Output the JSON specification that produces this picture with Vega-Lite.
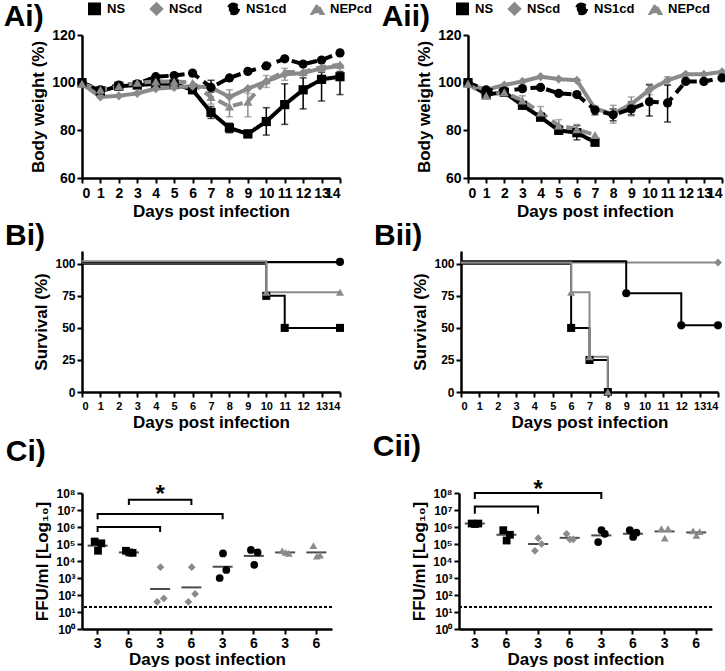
{
  "$schema": "https://vega.github.io/schema/vega-lite/v6.json",
  "background": "white",
  "padding": {"left": 3, "top": 2, "right": 0, "bottom": 0},
  "config": {
    "font": "Liberation Sans",
    "view": {"stroke": null},
    "axis": {"grid": false, "domainColor": "black", "domainWidth": 2.5, "tickColor": "black", "tickWidth": 2, "tickSize": 5, "labelColor": "black", "labelFont": "Liberation Sans", "labelFontWeight": "bold", "labelFontSize": 14, "titleFont": "Liberation Sans", "titleFontWeight": "bold", "titleFontSize": 17, "titleColor": "black", "labelOverlap": false},
    "title": {"font": "Liberation Sans", "fontWeight": "bold", "fontSize": 30, "anchor": "start", "frame": "bounds", "color": "black"},
    "legend": {"labelFont": "Liberation Sans", "padding": 0}
  },
  "datasets": {
    "bw": [
      {"panel": "i", "series": "NS", "day": 0, "value": 100},
      {"panel": "i", "series": "NS", "day": 1, "value": 96.5},
      {"panel": "i", "series": "NS", "day": 2, "value": 98.5},
      {"panel": "i", "series": "NS", "day": 3, "value": 99},
      {"panel": "i", "series": "NS", "day": 4, "value": 99.5},
      {"panel": "i", "series": "NS", "day": 5, "value": 99.5},
      {"panel": "i", "series": "NS", "day": 6, "value": 97},
      {"panel": "i", "series": "NS", "day": 7, "value": 87.5, "lo": 85, "hi": 90},
      {"panel": "i", "series": "NS", "day": 8, "value": 81, "lo": 79, "hi": 83},
      {"panel": "i", "series": "NS", "day": 9, "value": 78.5, "lo": 77, "hi": 80},
      {"panel": "i", "series": "NS", "day": 10, "value": 83.7, "lo": 78, "hi": 89.5},
      {"panel": "i", "series": "NS", "day": 11, "value": 90.8, "lo": 82.5, "hi": 99.5},
      {"panel": "i", "series": "NS", "day": 12, "value": 97, "lo": 89, "hi": 102},
      {"panel": "i", "series": "NS", "day": 13, "value": 101.4, "lo": 92.3, "hi": 104.4},
      {"panel": "i", "series": "NS", "day": 14, "value": 102.5, "lo": 95, "hi": 104.7},
      {"panel": "i", "series": "NScd", "day": 0, "value": 99.5},
      {"panel": "i", "series": "NScd", "day": 1, "value": 94},
      {"panel": "i", "series": "NScd", "day": 2, "value": 94.5},
      {"panel": "i", "series": "NScd", "day": 3, "value": 95.5},
      {"panel": "i", "series": "NScd", "day": 4, "value": 97.5},
      {"panel": "i", "series": "NScd", "day": 5, "value": 98},
      {"panel": "i", "series": "NScd", "day": 6, "value": 98.5},
      {"panel": "i", "series": "NScd", "day": 7, "value": 98},
      {"panel": "i", "series": "NScd", "day": 8, "value": 94},
      {"panel": "i", "series": "NScd", "day": 9, "value": 97.5},
      {"panel": "i", "series": "NScd", "day": 10, "value": 100.5, "lo": 98, "hi": 103},
      {"panel": "i", "series": "NScd", "day": 11, "value": 103.5, "lo": 101, "hi": 106},
      {"panel": "i", "series": "NScd", "day": 12, "value": 104},
      {"panel": "i", "series": "NScd", "day": 13, "value": 106},
      {"panel": "i", "series": "NScd", "day": 14, "value": 107},
      {"panel": "i", "series": "NS1cd", "day": 0, "value": 100},
      {"panel": "i", "series": "NS1cd", "day": 1, "value": 97},
      {"panel": "i", "series": "NS1cd", "day": 2, "value": 99},
      {"panel": "i", "series": "NS1cd", "day": 3, "value": 99.5},
      {"panel": "i", "series": "NS1cd", "day": 4, "value": 102.5},
      {"panel": "i", "series": "NS1cd", "day": 5, "value": 103},
      {"panel": "i", "series": "NS1cd", "day": 6, "value": 104},
      {"panel": "i", "series": "NS1cd", "day": 7, "value": 98, "lo": 96, "hi": 101},
      {"panel": "i", "series": "NS1cd", "day": 8, "value": 102},
      {"panel": "i", "series": "NS1cd", "day": 9, "value": 104.7},
      {"panel": "i", "series": "NS1cd", "day": 10, "value": 107},
      {"panel": "i", "series": "NS1cd", "day": 11, "value": 110},
      {"panel": "i", "series": "NS1cd", "day": 12, "value": 107.8},
      {"panel": "i", "series": "NS1cd", "day": 13, "value": 109.5},
      {"panel": "i", "series": "NS1cd", "day": 14, "value": 112.5},
      {"panel": "i", "series": "NEPcd", "day": 0, "value": 99.5},
      {"panel": "i", "series": "NEPcd", "day": 1, "value": 97},
      {"panel": "i", "series": "NEPcd", "day": 2, "value": 98.5},
      {"panel": "i", "series": "NEPcd", "day": 3, "value": 100},
      {"panel": "i", "series": "NEPcd", "day": 4, "value": 100.5},
      {"panel": "i", "series": "NEPcd", "day": 5, "value": 100.5},
      {"panel": "i", "series": "NEPcd", "day": 6, "value": 100},
      {"panel": "i", "series": "NEPcd", "day": 7, "value": 94, "lo": 91, "hi": 97},
      {"panel": "i", "series": "NEPcd", "day": 8, "value": 90, "lo": 85.7, "hi": 97},
      {"panel": "i", "series": "NEPcd", "day": 9, "value": 92, "lo": 85.7, "hi": 95.5},
      {"panel": "i", "series": "NEPcd", "day": 10, "value": 101},
      {"panel": "i", "series": "NEPcd", "day": 11, "value": 104.5},
      {"panel": "i", "series": "NEPcd", "day": 12, "value": 104.5},
      {"panel": "i", "series": "NEPcd", "day": 13, "value": 106.5},
      {"panel": "i", "series": "NEPcd", "day": 14, "value": 107.5},
      {"panel": "ii", "series": "NS", "day": 0, "value": 100},
      {"panel": "ii", "series": "NS", "day": 1, "value": 95},
      {"panel": "ii", "series": "NS", "day": 2, "value": 96},
      {"panel": "ii", "series": "NS", "day": 3, "value": 90.5},
      {"panel": "ii", "series": "NS", "day": 4, "value": 85.5},
      {"panel": "ii", "series": "NS", "day": 5, "value": 80, "lo": 78.5, "hi": 82},
      {"panel": "ii", "series": "NS", "day": 6, "value": 79, "lo": 76, "hi": 82},
      {"panel": "ii", "series": "NS", "day": 7, "value": 75},
      {"panel": "ii", "series": "NScd", "day": 0, "value": 99.5},
      {"panel": "ii", "series": "NScd", "day": 1, "value": 97},
      {"panel": "ii", "series": "NScd", "day": 2, "value": 99},
      {"panel": "ii", "series": "NScd", "day": 3, "value": 100.5},
      {"panel": "ii", "series": "NScd", "day": 4, "value": 102.5},
      {"panel": "ii", "series": "NScd", "day": 5, "value": 101.5},
      {"panel": "ii", "series": "NScd", "day": 6, "value": 101},
      {"panel": "ii", "series": "NScd", "day": 7, "value": 89},
      {"panel": "ii", "series": "NScd", "day": 8, "value": 87, "lo": 83, "hi": 90.5},
      {"panel": "ii", "series": "NScd", "day": 9, "value": 91, "lo": 86, "hi": 94},
      {"panel": "ii", "series": "NScd", "day": 10, "value": 97, "lo": 95, "hi": 99.5},
      {"panel": "ii", "series": "NScd", "day": 11, "value": 101, "lo": 99, "hi": 102.5},
      {"panel": "ii", "series": "NScd", "day": 12, "value": 103.5, "lo": 102, "hi": 104},
      {"panel": "ii", "series": "NScd", "day": 13, "value": 103.5},
      {"panel": "ii", "series": "NScd", "day": 14, "value": 104.5},
      {"panel": "ii", "series": "NS1cd", "day": 0, "value": 100},
      {"panel": "ii", "series": "NS1cd", "day": 1, "value": 97},
      {"panel": "ii", "series": "NS1cd", "day": 2, "value": 96.5},
      {"panel": "ii", "series": "NS1cd", "day": 3, "value": 97.5},
      {"panel": "ii", "series": "NS1cd", "day": 4, "value": 98},
      {"panel": "ii", "series": "NS1cd", "day": 5, "value": 95.5},
      {"panel": "ii", "series": "NS1cd", "day": 6, "value": 95},
      {"panel": "ii", "series": "NS1cd", "day": 7, "value": 88.5, "lo": 86.5, "hi": 90},
      {"panel": "ii", "series": "NS1cd", "day": 8, "value": 86.5, "lo": 84, "hi": 89},
      {"panel": "ii", "series": "NS1cd", "day": 9, "value": 89, "lo": 86.5, "hi": 92},
      {"panel": "ii", "series": "NS1cd", "day": 10, "value": 92, "lo": 86, "hi": 99},
      {"panel": "ii", "series": "NS1cd", "day": 11, "value": 91.5, "lo": 83.5, "hi": 99},
      {"panel": "ii", "series": "NS1cd", "day": 12, "value": 100.5},
      {"panel": "ii", "series": "NS1cd", "day": 13, "value": 100.5},
      {"panel": "ii", "series": "NS1cd", "day": 14, "value": 102},
      {"panel": "ii", "series": "NEPcd", "day": 0, "value": 99.5},
      {"panel": "ii", "series": "NEPcd", "day": 1, "value": 94.5},
      {"panel": "ii", "series": "NEPcd", "day": 2, "value": 96},
      {"panel": "ii", "series": "NEPcd", "day": 3, "value": 92.5, "lo": 91, "hi": 94.5},
      {"panel": "ii", "series": "NEPcd", "day": 4, "value": 87.5, "lo": 86, "hi": 90},
      {"panel": "ii", "series": "NEPcd", "day": 5, "value": 82, "lo": 80, "hi": 84.5},
      {"panel": "ii", "series": "NEPcd", "day": 6, "value": 80.5, "lo": 79, "hi": 82.5},
      {"panel": "ii", "series": "NEPcd", "day": 7, "value": 78}
    ],
    "surv": [
      {"panel": "i", "series": "NS", "day": 0, "surv": 100, "marker": false},
      {"panel": "i", "series": "NS", "day": 10, "surv": 75, "marker": true},
      {"panel": "i", "series": "NS", "day": 11, "surv": 50, "marker": true},
      {"panel": "i", "series": "NS", "day": 14, "surv": 50, "marker": true},
      {"panel": "i", "series": "NScd", "day": 0, "surv": 101, "marker": false},
      {"panel": "i", "series": "NScd", "day": 14, "surv": 101, "marker": false},
      {"panel": "i", "series": "NS1cd", "day": 0, "surv": 101.5, "marker": false},
      {"panel": "i", "series": "NS1cd", "day": 14, "surv": 101.5, "marker": true},
      {"panel": "i", "series": "NEPcd", "day": 0, "surv": 102, "marker": false},
      {"panel": "i", "series": "NEPcd", "day": 10, "surv": 77.8, "marker": true},
      {"panel": "i", "series": "NEPcd", "day": 14, "surv": 77.8, "marker": true},
      {"panel": "ii", "series": "NS", "day": 0, "surv": 100, "marker": false},
      {"panel": "ii", "series": "NS", "day": 6, "surv": 50, "marker": true},
      {"panel": "ii", "series": "NS", "day": 7, "surv": 25, "marker": true},
      {"panel": "ii", "series": "NS", "day": 8, "surv": 0, "marker": true},
      {"panel": "ii", "series": "NScd", "day": 0, "surv": 101, "marker": false},
      {"panel": "ii", "series": "NScd", "day": 14, "surv": 101, "marker": true},
      {"panel": "ii", "series": "NS1cd", "day": 0, "surv": 102, "marker": false},
      {"panel": "ii", "series": "NS1cd", "day": 9, "surv": 77, "marker": true},
      {"panel": "ii", "series": "NS1cd", "day": 12, "surv": 52, "marker": true},
      {"panel": "ii", "series": "NS1cd", "day": 14, "surv": 52, "marker": true},
      {"panel": "ii", "series": "NEPcd", "day": 0, "surv": 101, "marker": false},
      {"panel": "ii", "series": "NEPcd", "day": 6, "surv": 77.8, "marker": true},
      {"panel": "ii", "series": "NEPcd", "day": 7, "surv": 27.5, "marker": true},
      {"panel": "ii", "series": "NEPcd", "day": 8, "surv": 0, "marker": true}
    ],
    "ffu": [
      {"panel": "i", "series": "NS", "group": "NS-3", "rep": 1, "ffu": 140000},
      {"panel": "i", "series": "NS", "group": "NS-3", "rep": 2, "ffu": 40000},
      {"panel": "i", "series": "NS", "group": "NS-3", "rep": 3, "ffu": 110000},
      {"panel": "i", "series": "NS", "group": "NS-6", "rep": 1, "ffu": 40000},
      {"panel": "i", "series": "NS", "group": "NS-6", "rep": 2, "ffu": 32000},
      {"panel": "i", "series": "NS", "group": "NS-6", "rep": 3, "ffu": 30000},
      {"panel": "i", "series": "NScd", "group": "NScd-3", "rep": 1, "ffu": 40},
      {"panel": "i", "series": "NScd", "group": "NScd-3", "rep": 2, "ffu": 4300},
      {"panel": "i", "series": "NScd", "group": "NScd-3", "rep": 3, "ffu": 63},
      {"panel": "i", "series": "NScd", "group": "NScd-6", "rep": 1, "ffu": 40},
      {"panel": "i", "series": "NScd", "group": "NScd-6", "rep": 2, "ffu": 4300},
      {"panel": "i", "series": "NScd", "group": "NScd-6", "rep": 3, "ffu": 115},
      {"panel": "i", "series": "NS1cd", "group": "NS1cd-3", "rep": 1, "ffu": 1000},
      {"panel": "i", "series": "NS1cd", "group": "NS1cd-3", "rep": 2, "ffu": 28000},
      {"panel": "i", "series": "NS1cd", "group": "NS1cd-3", "rep": 3, "ffu": 3000},
      {"panel": "i", "series": "NS1cd", "group": "NS1cd-6", "rep": 1, "ffu": 45000},
      {"panel": "i", "series": "NS1cd", "group": "NS1cd-6", "rep": 2, "ffu": 6000},
      {"panel": "i", "series": "NS1cd", "group": "NS1cd-6", "rep": 3, "ffu": 32000},
      {"panel": "i", "series": "NEPcd", "group": "NEPcd-3", "rep": 1, "ffu": 40000},
      {"panel": "i", "series": "NEPcd", "group": "NEPcd-3", "rep": 2, "ffu": 32000},
      {"panel": "i", "series": "NEPcd", "group": "NEPcd-3", "rep": 3, "ffu": 28000},
      {"panel": "i", "series": "NEPcd", "group": "NEPcd-6", "rep": 1, "ffu": 80000},
      {"panel": "i", "series": "NEPcd", "group": "NEPcd-6", "rep": 2, "ffu": 19000},
      {"panel": "i", "series": "NEPcd", "group": "NEPcd-6", "rep": 3, "ffu": 22000},
      {"panel": "ii", "series": "NS", "group": "NS-3", "rep": 1, "ffu": 1600000},
      {"panel": "ii", "series": "NS", "group": "NS-3", "rep": 2, "ffu": 1500000},
      {"panel": "ii", "series": "NS", "group": "NS-3", "rep": 3, "ffu": 1600000},
      {"panel": "ii", "series": "NS", "group": "NS-6", "rep": 1, "ffu": 650000},
      {"panel": "ii", "series": "NS", "group": "NS-6", "rep": 2, "ffu": 160000},
      {"panel": "ii", "series": "NS", "group": "NS-6", "rep": 3, "ffu": 350000},
      {"panel": "ii", "series": "NScd", "group": "NScd-3", "rep": 1, "ffu": 40000},
      {"panel": "ii", "series": "NScd", "group": "NScd-3", "rep": 2, "ffu": 220000},
      {"panel": "ii", "series": "NScd", "group": "NScd-3", "rep": 3, "ffu": 100000},
      {"panel": "ii", "series": "NScd", "group": "NScd-6", "rep": 1, "ffu": 400000},
      {"panel": "ii", "series": "NScd", "group": "NScd-6", "rep": 2, "ffu": 190000},
      {"panel": "ii", "series": "NScd", "group": "NScd-6", "rep": 3, "ffu": 190000},
      {"panel": "ii", "series": "NS1cd", "group": "NS1cd-3", "rep": 1, "ffu": 130000},
      {"panel": "ii", "series": "NS1cd", "group": "NS1cd-3", "rep": 2, "ffu": 650000},
      {"panel": "ii", "series": "NS1cd", "group": "NS1cd-3", "rep": 3, "ffu": 400000},
      {"panel": "ii", "series": "NS1cd", "group": "NS1cd-6", "rep": 1, "ffu": 650000},
      {"panel": "ii", "series": "NS1cd", "group": "NS1cd-6", "rep": 2, "ffu": 260000},
      {"panel": "ii", "series": "NS1cd", "group": "NS1cd-6", "rep": 3, "ffu": 460000},
      {"panel": "ii", "series": "NEPcd", "group": "NEPcd-3", "rep": 1, "ffu": 800000},
      {"panel": "ii", "series": "NEPcd", "group": "NEPcd-3", "rep": 2, "ffu": 220000},
      {"panel": "ii", "series": "NEPcd", "group": "NEPcd-3", "rep": 3, "ffu": 800000},
      {"panel": "ii", "series": "NEPcd", "group": "NEPcd-6", "rep": 1, "ffu": 600000},
      {"panel": "ii", "series": "NEPcd", "group": "NEPcd-6", "rep": 2, "ffu": 320000},
      {"panel": "ii", "series": "NEPcd", "group": "NEPcd-6", "rep": 3, "ffu": 540000}
    ],
    "ffuMean": [
      {"panel": "i", "group": "NS-3", "mean": 80000},
      {"panel": "i", "group": "NS-6", "mean": 32000},
      {"panel": "i", "group": "NScd-3", "mean": 225},
      {"panel": "i", "group": "NScd-6", "mean": 280},
      {"panel": "i", "group": "NS1cd-3", "mean": 4600},
      {"panel": "i", "group": "NS1cd-6", "mean": 20000},
      {"panel": "i", "group": "NEPcd-3", "mean": 32000},
      {"panel": "i", "group": "NEPcd-6", "mean": 32000},
      {"panel": "ii", "group": "NS-3", "mean": 1600000},
      {"panel": "ii", "group": "NS-6", "mean": 350000},
      {"panel": "ii", "group": "NScd-3", "mean": 100000},
      {"panel": "ii", "group": "NScd-6", "mean": 230000},
      {"panel": "ii", "group": "NS1cd-3", "mean": 320000},
      {"panel": "ii", "group": "NS1cd-6", "mean": 400000},
      {"panel": "ii", "group": "NEPcd-3", "mean": 550000},
      {"panel": "ii", "group": "NEPcd-6", "mean": 480000}
    ],
    "brackets": [
      {"panel": "i", "bracket": "a", "vertex": 1, "group": "NS-3", "level": 500000},
      {"panel": "i", "bracket": "a", "vertex": 2, "group": "NS-3", "level": 1000000},
      {"panel": "i", "bracket": "a", "vertex": 3, "group": "NScd-3", "level": 1000000},
      {"panel": "i", "bracket": "a", "vertex": 4, "group": "NScd-3", "level": 500000},
      {"panel": "i", "bracket": "b", "vertex": 1, "group": "NS-3", "level": 2900000},
      {"panel": "i", "bracket": "b", "vertex": 2, "group": "NS-3", "level": 5800000},
      {"panel": "i", "bracket": "b", "vertex": 3, "group": "NS1cd-3", "level": 5800000},
      {"panel": "i", "bracket": "b", "vertex": 4, "group": "NS1cd-3", "level": 2900000},
      {"panel": "i", "bracket": "c", "vertex": 1, "group": "NS-6", "level": 20000000},
      {"panel": "i", "bracket": "c", "vertex": 2, "group": "NS-6", "level": 40000000},
      {"panel": "i", "bracket": "c", "vertex": 3, "group": "NScd-6", "level": 40000000},
      {"panel": "i", "bracket": "c", "vertex": 4, "group": "NScd-6", "level": 20000000},
      {"panel": "ii", "bracket": "a", "vertex": 1, "group": "NS-3", "level": 6000000},
      {"panel": "ii", "bracket": "a", "vertex": 2, "group": "NS-3", "level": 16000000},
      {"panel": "ii", "bracket": "a", "vertex": 3, "group": "NScd-3", "level": 16000000},
      {"panel": "ii", "bracket": "a", "vertex": 4, "group": "NScd-3", "level": 6000000},
      {"panel": "ii", "bracket": "b", "vertex": 1, "group": "NS-3", "level": 45000000},
      {"panel": "ii", "bracket": "b", "vertex": 2, "group": "NS-3", "level": 100000000},
      {"panel": "ii", "bracket": "b", "vertex": 3, "group": "NS1cd-3", "level": 100000000},
      {"panel": "ii", "bracket": "b", "vertex": 4, "group": "NS1cd-3", "level": 45000000}
    ],
    "stars": [
      {"panel": "i", "group": "NScd-3", "level": 130000000, "label": "*"},
      {"panel": "ii", "group": "NScd-3", "level": 250000000, "label": "*"}
    ]
  },
  "vconcat": [
    {
      "hconcat": [
        {
          "title": {"text": "Ai)", "dx": -26, "offset": -30},
          "width": 258, "height": 143,
          "data": {"name": "bw"},
          "transform": [{"filter": "datum.panel == 'i'"}],
          "encoding": {
            "x": {"field": "day", "type": "quantitative", "scale": {"domain": [0, 14], "nice": false}, "axis": {"values": [0,1,2,3,4,5,6,7,8,9,10,11,12,13,14], "title": "Days post infection", "labelPadding": 3, "titlePadding": 3}},
            "color": {"field": "series", "type": "nominal", "scale": {"domain": ["NS", "NScd", "NS1cd", "NEPcd"], "range": ["#000000", "#8a8a8a", "#000000", "#8a8a8a"]}, "legend": {"orient": "none", "legendX": 6, "legendY": -33, "direction": "horizontal", "title": null, "labelFontSize": 13, "labelFontWeight": "bold", "labelColor": "black", "symbolSize": 90, "columnPadding": 18, "labelOffset": 6, "encode": {"symbols": {"update": {"shape": {"signal": "datum.value === 'NS' ? 'M-2.2,0H2.2M-0.95,-0.95H0.95V0.95H-0.95Z' : datum.value === 'NScd' ? 'M-2.2,0H2.2M0,-1.15L1.15,0L0,1.15L-1.15,0Z' : datum.value === 'NS1cd' ? 'M-2.2,0H-1.05M1.05,0H2.2M-1.05,0A1.05,1.05 0 1,0 1.05,0A1.05,1.05 0 1,0 -1.05,0Z' : 'M-2.2,0H2.2M0,-1.2L1.2,0.9H-1.2Z'"}, "stroke": {"signal": "datum.value === 'NScd' || datum.value === 'NEPcd' ? '#8a8a8a' : '#000000'"}, "fill": {"signal": "datum.value === 'NScd' || datum.value === 'NEPcd' ? '#8a8a8a' : '#000000'"}, "strokeWidth": {"value": 3.5}, "opacity": {"value": 1}}}}}}
          },
          "layer": [
            {"transform": [{"filter": "isValid(datum.lo)"}], "mark": {"type": "errorbar", "ticks": {"size": 7}, "thickness": 1.5}, "encoding": {"y": {"field": "lo", "type": "quantitative", "scale": {"domain": [60, 120], "nice": false}, "axis": {"values": [60,70,80,90,100,110,120], "title": "Body weight (%)"}}, "y2": {"field": "hi"}}},
            {"mark": {"type": "line", "strokeWidth": 4}, "encoding": {"y": {"field": "value", "type": "quantitative"}, "strokeDash": {"field": "series", "type": "nominal", "scale": {"domain": ["NS", "NScd", "NS1cd", "NEPcd"], "range": [[1, 0], [1, 0], [10, 6], [10, 6]]}, "legend": null}, "detail": {"field": "series"}}},
            {"mark": {"type": "point", "filled": true, "size": 85, "opacity": 1}, "encoding": {"y": {"field": "value", "type": "quantitative"},
              "shape": {"field": "series", "type": "nominal", "scale": {"domain": ["NS", "NScd", "NS1cd", "NEPcd"], "range": ["square", "diamond", "circle", "triangle-up"]}, "legend": null}}}
          ]
        },
        {
          "title": {"text": "Aii)", "dx": -34, "offset": -30},
          "width": 254, "height": 143,
          "data": {"name": "bw"},
          "transform": [{"filter": "datum.panel == 'ii'"}],
          "encoding": {
            "x": {"field": "day", "type": "quantitative", "scale": {"domain": [0, 14], "nice": false}, "axis": {"values": [0,1,2,3,4,5,6,7,8,9,10,11,12,13,14], "title": "Days post infection", "labelPadding": 3, "titlePadding": 3}},
            "color": {"field": "series", "type": "nominal", "scale": {"domain": ["NS", "NScd", "NS1cd", "NEPcd"], "range": ["#000000", "#8a8a8a", "#000000", "#8a8a8a"]}, "legend": {"orient": "none", "legendX": -12, "legendY": -33, "direction": "horizontal", "title": null, "labelFontSize": 13, "labelFontWeight": "bold", "labelColor": "black", "symbolSize": 90, "columnPadding": 8, "labelOffset": 6, "encode": {"symbols": {"update": {"shape": {"signal": "datum.value === 'NS' ? 'M-2.2,0H2.2M-0.95,-0.95H0.95V0.95H-0.95Z' : datum.value === 'NScd' ? 'M-2.2,0H2.2M0,-1.15L1.15,0L0,1.15L-1.15,0Z' : datum.value === 'NS1cd' ? 'M-2.2,0H-1.05M1.05,0H2.2M-1.05,0A1.05,1.05 0 1,0 1.05,0A1.05,1.05 0 1,0 -1.05,0Z' : 'M-2.2,0H2.2M0,-1.2L1.2,0.9H-1.2Z'"}, "stroke": {"signal": "datum.value === 'NScd' || datum.value === 'NEPcd' ? '#8a8a8a' : '#000000'"}, "fill": {"signal": "datum.value === 'NScd' || datum.value === 'NEPcd' ? '#8a8a8a' : '#000000'"}, "strokeWidth": {"value": 3.5}, "opacity": {"value": 1}}}}}}
          },
          "layer": [
            {"transform": [{"filter": "isValid(datum.lo)"}], "mark": {"type": "errorbar", "ticks": {"size": 7}, "thickness": 1.5}, "encoding": {"y": {"field": "lo", "type": "quantitative", "scale": {"domain": [60, 120], "nice": false}, "axis": {"values": [60,70,80,90,100,110,120], "title": "Body weight (%)"}}, "y2": {"field": "hi"}}},
            {"mark": {"type": "line", "strokeWidth": 4}, "encoding": {"y": {"field": "value", "type": "quantitative"}, "strokeDash": {"field": "series", "type": "nominal", "scale": {"domain": ["NS", "NScd", "NS1cd", "NEPcd"], "range": [[1, 0], [1, 0], [10, 6], [10, 6]]}, "legend": null}, "detail": {"field": "series"}}},
            {"mark": {"type": "point", "filled": true, "size": 85, "opacity": 1}, "encoding": {"y": {"field": "value", "type": "quantitative"},
              "shape": {"field": "series", "type": "nominal", "scale": {"domain": ["NS", "NScd", "NS1cd", "NEPcd"], "range": ["square", "diamond", "circle", "triangle-up"]}, "legend": null}}}
          ]
        }
      ],
      "spacing": 9,
      "resolve": {"scale": {"color": "independent", "shape": "independent", "strokeDash": "independent"}, "legend": {"color": "independent", "shape": "independent", "strokeDash": "independent"}}
    },
    {
      "hconcat": [
        {
          "title": {"text": "Bi)", "dx": -28, "offset": 0},
          "width": 258, "height": 141,
          "data": {"name": "surv"},
          "transform": [{"filter": "datum.panel == 'i'"}],
          "encoding": {
            "x": {"field": "day", "type": "quantitative", "scale": {"domain": [0, 14], "nice": false}, "axis": {"values": [0,1,2,3,4,5,6,7,8,9,10,11,12,13,14], "title": "Days post infection", "labelFontSize": 11, "labelPadding": 3, "titlePadding": 3}},
            "y": {"field": "surv", "type": "quantitative", "scale": {"domain": [0, 110], "nice": false}, "axis": {"values": [0, 25, 50, 75, 100], "title": "Survival (%)", "labelFontSize": 12}},
            "color": {"field": "series", "type": "nominal", "scale": {"domain": ["NS", "NScd", "NS1cd", "NEPcd"], "range": ["#000000", "#8a8a8a", "#000000", "#8a8a8a"]}, "legend": null}
          },
          "layer": [
            {"mark": {"type": "line", "interpolate": "step-after", "strokeWidth": 2}, "encoding": {"detail": {"field": "series"}}},
            {"transform": [{"filter": "datum.marker"}], "mark": {"type": "point", "filled": true, "size": 65, "opacity": 1}, "encoding": {"shape": {"field": "series", "type": "nominal", "scale": {"domain": ["NS", "NScd", "NS1cd", "NEPcd"], "range": ["square", "diamond", "circle", "triangle-up"]}, "legend": null}}}
          ]
        },
        {
          "title": {"text": "Bii)", "dx": -38, "offset": 0},
          "width": 257, "height": 141,
          "data": {"name": "surv"},
          "transform": [{"filter": "datum.panel == 'ii'"}],
          "encoding": {
            "x": {"field": "day", "type": "quantitative", "scale": {"domain": [0, 14], "nice": false}, "axis": {"values": [0,1,2,3,4,5,6,7,8,9,10,11,12,13,14], "title": "Days post infection", "labelFontSize": 11, "labelPadding": 3, "titlePadding": 3}},
            "y": {"field": "surv", "type": "quantitative", "scale": {"domain": [0, 110], "nice": false}, "axis": {"values": [0, 25, 50, 75, 100], "title": "Survival (%)", "labelFontSize": 12}},
            "color": {"field": "series", "type": "nominal", "scale": {"domain": ["NS", "NScd", "NS1cd", "NEPcd"], "range": ["#000000", "#8a8a8a", "#000000", "#8a8a8a"]}, "legend": null}
          },
          "layer": [
            {"mark": {"type": "line", "interpolate": "step-after", "strokeWidth": 2}, "encoding": {"detail": {"field": "series"}}},
            {"transform": [{"filter": "datum.marker"}], "mark": {"type": "point", "filled": true, "size": 65, "opacity": 1}, "encoding": {"shape": {"field": "series", "type": "nominal", "scale": {"domain": ["NS", "NScd", "NS1cd", "NEPcd"], "range": ["square", "diamond", "circle", "triangle-up"]}, "legend": null}}}
          ]
        }
      ],
      "spacing": 28,
      "resolve": {"scale": {"color": "independent", "shape": "independent"}}
    },
    {
      "hconcat": [
        {
          "title": {"text": "Ci)", "dx": -28, "offset": 16},
          "width": 250, "height": 136,
          "encoding": {
            "x": {"field": "group", "type": "nominal", "sort": null, "scale": {"domain": ["NS-3", "NS-6", "NScd-3", "NScd-6", "NS1cd-3", "NS1cd-6", "NEPcd-3", "NEPcd-6"], "paddingInner": 0, "paddingOuter": 0}, "axis": {"title": "Days post infection", "labelAngle": 0, "labelExpr": "split(datum.label, '-')[1]", "labelPadding": 2, "titlePadding": 1}}
          },
          "layer": [
            {"data": {"values": [{"limit": 20}]}, "mark": {"type": "rule", "strokeDash": [3, 2], "strokeWidth": 2, "color": "black"}, "encoding": {"x": null, "y": {"field": "limit", "type": "quantitative", "scale": {"type": "log", "domain": [1, 100000000], "nice": false}, "axis": {"values": [1, 10, 100, 1000, 10000, 100000, 1000000, 10000000, 100000000], "labelExpr": "'10' + ['⁰','¹','²','³','⁴','⁵','⁶','⁷','⁸'][round(log(datum.value)/LN10)]", "title": "FFU/ml [Log₁₀]", "labelFontSize": 12}}}},
            {"data": {"name": "ffuMean"}, "transform": [{"filter": "datum.panel == 'i'"}], "mark": {"type": "tick", "orient": "horizontal", "color": "black", "thickness": 2, "size": 20}, "encoding": {"y": {"field": "mean", "type": "quantitative"}}},
            {"data": {"name": "ffu"}, "transform": [{"filter": "datum.panel == 'i'"}], "mark": {"type": "point", "filled": true, "size": 60, "opacity": 1}, "encoding": {"y": {"field": "ffu", "type": "quantitative"}, "xOffset": {"field": "rep", "type": "ordinal", "scale": {"type": "point", "range": [11, 21]}}, "color": {"field": "series", "type": "nominal", "scale": {"domain": ["NS", "NScd", "NS1cd", "NEPcd"], "range": ["#000000", "#8a8a8a", "#000000", "#8a8a8a"]}, "legend": null}, "shape": {"field": "series", "type": "nominal", "scale": {"domain": ["NS", "NScd", "NS1cd", "NEPcd"], "range": ["square", "diamond", "circle", "triangle-up"]}, "legend": null}}},
            {"data": {"name": "brackets"}, "transform": [{"filter": "datum.panel == 'i'"}], "mark": {"type": "line", "color": "black", "strokeWidth": 2}, "encoding": {"y": {"field": "level", "type": "quantitative"}, "detail": {"field": "bracket"}, "order": {"field": "vertex", "type": "quantitative"}}},
            {"data": {"name": "stars"}, "transform": [{"filter": "datum.panel == 'i'"}], "mark": {"type": "text", "fontSize": 24, "fontWeight": "bold", "baseline": "middle", "dy": 4}, "encoding": {"y": {"field": "level", "type": "quantitative"}, "text": {"field": "label"}}}
          ]
        },
        {
          "title": {"text": "Cii)", "dx": -38, "offset": 16},
          "width": 253, "height": 136,
          "encoding": {
            "x": {"field": "group", "type": "nominal", "sort": null, "scale": {"domain": ["NS-3", "NS-6", "NScd-3", "NScd-6", "NS1cd-3", "NS1cd-6", "NEPcd-3", "NEPcd-6"], "paddingInner": 0, "paddingOuter": 0}, "axis": {"title": "Days post infection", "labelAngle": 0, "labelExpr": "split(datum.label, '-')[1]", "labelPadding": 2, "titlePadding": 1}}
          },
          "layer": [
            {"data": {"values": [{"limit": 20}]}, "mark": {"type": "rule", "strokeDash": [3, 2], "strokeWidth": 2, "color": "black"}, "encoding": {"x": null, "y": {"field": "limit", "type": "quantitative", "scale": {"type": "log", "domain": [1, 100000000], "nice": false}, "axis": {"values": [1, 10, 100, 1000, 10000, 100000, 1000000, 10000000, 100000000], "labelExpr": "'10' + ['⁰','¹','²','³','⁴','⁵','⁶','⁷','⁸'][round(log(datum.value)/LN10)]", "title": "FFU/ml [Log₁₀]", "labelFontSize": 12}}}},
            {"data": {"name": "ffuMean"}, "transform": [{"filter": "datum.panel == 'ii'"}], "mark": {"type": "tick", "orient": "horizontal", "color": "black", "thickness": 2, "size": 20}, "encoding": {"y": {"field": "mean", "type": "quantitative"}}},
            {"data": {"name": "ffu"}, "transform": [{"filter": "datum.panel == 'ii'"}], "mark": {"type": "point", "filled": true, "size": 60, "opacity": 1}, "encoding": {"y": {"field": "ffu", "type": "quantitative"}, "xOffset": {"field": "rep", "type": "ordinal", "scale": {"type": "point", "range": [11, 21]}}, "color": {"field": "series", "type": "nominal", "scale": {"domain": ["NS", "NScd", "NS1cd", "NEPcd"], "range": ["#000000", "#8a8a8a", "#000000", "#8a8a8a"]}, "legend": null}, "shape": {"field": "series", "type": "nominal", "scale": {"domain": ["NS", "NScd", "NS1cd", "NEPcd"], "range": ["square", "diamond", "circle", "triangle-up"]}, "legend": null}}},
            {"data": {"name": "brackets"}, "transform": [{"filter": "datum.panel == 'ii'"}], "mark": {"type": "line", "color": "black", "strokeWidth": 2}, "encoding": {"y": {"field": "level", "type": "quantitative"}, "detail": {"field": "bracket"}, "order": {"field": "vertex", "type": "quantitative"}}},
            {"data": {"name": "stars"}, "transform": [{"filter": "datum.panel == 'ii'"}], "mark": {"type": "text", "fontSize": 24, "fontWeight": "bold", "baseline": "middle", "dy": 4}, "encoding": {"y": {"field": "level", "type": "quantitative"}, "text": {"field": "label"}}}
          ]
        }
      ],
      "spacing": 39,
      "resolve": {"scale": {"color": "independent", "shape": "independent"}}
    }
  ],
  "spacing": 2,
  "resolve": {"scale": {"color": "independent", "shape": "independent", "strokeDash": "independent"}, "legend": {"color": "independent", "shape": "independent", "strokeDash": "independent"}}
}
